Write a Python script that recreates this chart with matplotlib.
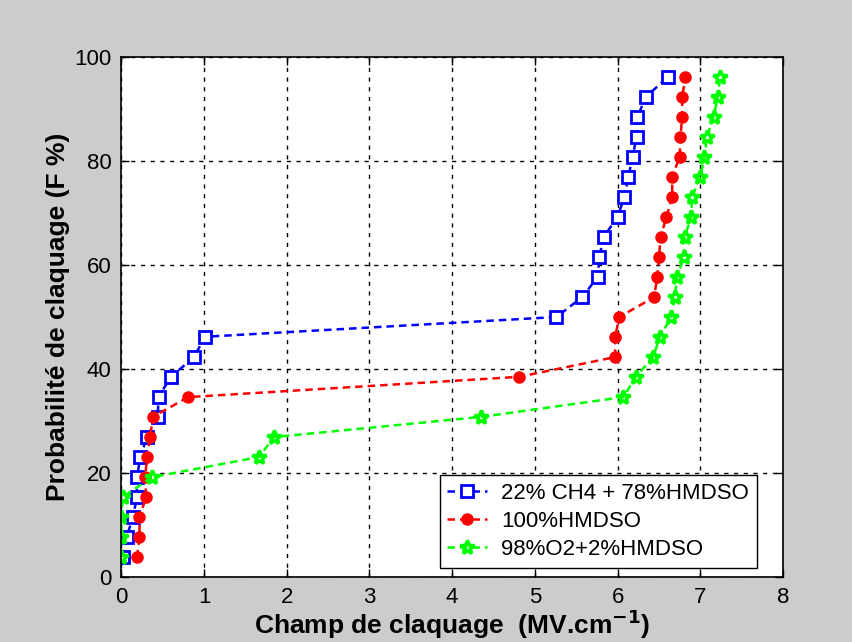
import numpy as np
import matplotlib.pyplot as plt

plt.rcParams['font.family'] = ['Liberation Sans', 'DejaVu Sans']

# cumulative breakdown probability (F %), shared by the three series
F = [3.8, 7.7, 11.5, 15.4, 19.2, 23.1, 26.9, 30.8, 34.6, 38.5, 42.3, 46.2, 50.0,
     53.8, 57.7, 61.5, 65.4, 69.2, 73.1, 76.9, 80.8, 84.6, 88.5, 92.3, 96.2]

# breakdown field (MV/cm)
E_ch4 = [0.02, 0.065, 0.14, 0.19, 0.19, 0.23, 0.31, 0.44, 0.45, 0.60, 0.88, 1.01, 5.26,
         5.57, 5.76, 5.78, 5.83, 6.00, 6.08, 6.13, 6.18, 6.23, 6.24, 6.34, 6.61]
E_hmdso = [0.19, 0.22, 0.22, 0.30, 0.29, 0.31, 0.35, 0.38, 0.81, 4.81, 5.97, 5.97, 6.02,
           6.44, 6.48, 6.50, 6.52, 6.59, 6.66, 6.66, 6.75, 6.76, 6.78, 6.78, 6.82]
E_o2 = [0.0, 0.0, 0.0, 0.02, 0.37, 1.67, 1.84, 4.35, 6.07, 6.22, 6.43, 6.51, 6.65,
        6.69, 6.72, 6.80, 6.81, 6.89, 6.90, 7.00, 7.05, 7.08, 7.16, 7.21, 7.24]

labels = ['22% CH4 + 78%HMDSO', '100%HMDSO', '98%O2+2%HMDSO']

fig = plt.figure(figsize=(8.53, 6.42), dpi=100, facecolor='#cccccc')
ax = fig.add_axes([0.1422, 0.1012, 0.7758, 0.81])
ax.set_facecolor('white')

dash = (3, 2)
ax.plot(E_ch4, F, color='#0000ff', ls='--', dashes=dash, lw=1.8, marker='s', ms=8,
        mfc='white', mec='#0000ff', mew=2, label=labels[0])
ax.plot(E_hmdso, F, color='#ff0000', ls='--', dashes=dash, lw=1.8, marker='o', ms=8,
        mfc='#ff0000', mec='#ff0000', label=labels[1])
ax.plot(E_o2, F, color='#00ff00', ls='--', dashes=dash, lw=1.8, marker='*', ms=10,
        mfc='none', mec='#00ff00', mew=2.5, label=labels[2])

ax.set_xlim(0, 8)
ax.set_ylim(0, 100)
ax.set_xticks(range(0, 9))
ax.set_yticks(range(0, 101, 20))
ax.grid(True, color='black', ls=(0, (3, 4)), lw=1)
ax.tick_params(direction='in', top=True, right=True, length=6, width=1,
               labelsize=16, colors='black', pad=7)
for s in ax.spines.values():
    s.set_linewidth(1.2)

ax.set_xlabel('Champ de claquage  (MV.cm$^{\\mathbf{-1}}$)', fontsize=19,
              fontweight='bold', labelpad=0)
ax.set_ylabel('Probabilité de claquage (F %)', fontsize=19, fontweight='bold',
              labelpad=3)

leg = ax.legend(loc='lower right', bbox_to_anchor=(0.9607, 0.0173), borderaxespad=0,
                fontsize=16, frameon=True, fancybox=False, edgecolor='black',
                framealpha=1, handlelength=1.8, borderpad=0.35, labelspacing=0.33,
                handletextpad=0.63)
leg.get_frame().set_linewidth(1)

fig.savefig('out.png', dpi=100, facecolor=fig.get_facecolor())
